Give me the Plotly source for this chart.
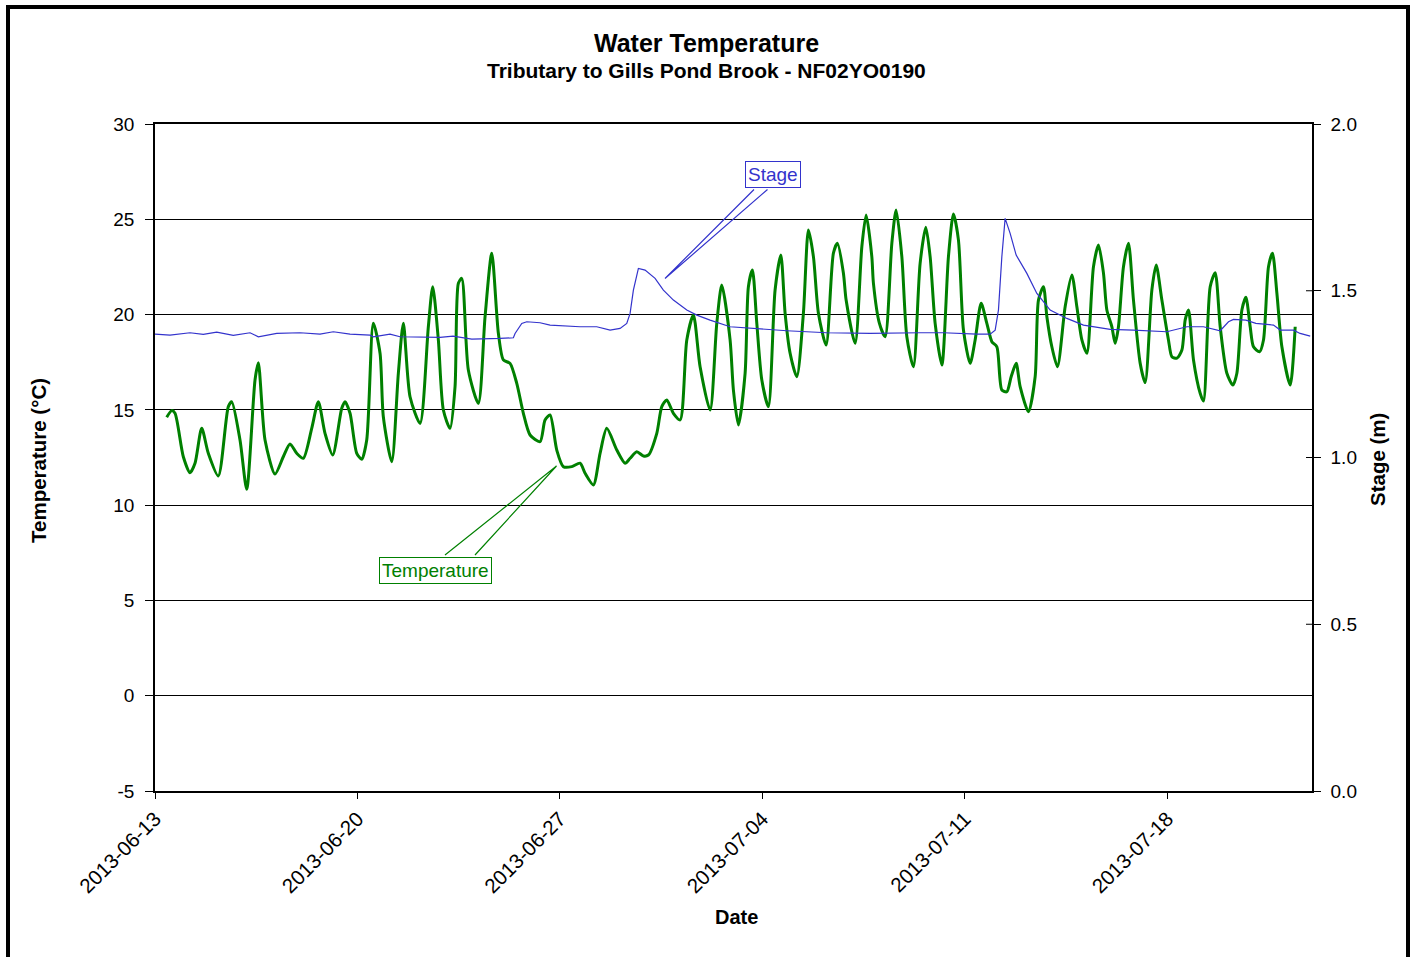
import pandas as pd
import plotly.graph_objects as go

START = "2013-06-13"

# Temperature series: (days after 2013-06-13 00:00, °C)
temp_days = [0.405, 0.577, 0.692, 0.979, 1.210, 1.383, 1.615, 1.843, 2.189, 2.535, 2.652, 2.939, 3.171, 3.458, 3.572,
             3.804, 4.149, 4.436, 4.668, 4.900, 5.128, 5.418, 5.647, 5.878, 6.145, 6.456, 6.570, 6.743, 6.975, 7.147,
             7.320, 7.549, 7.780, 7.894, 8.185, 8.413, 8.586, 8.817, 9.163, 9.450, 9.602, 9.796, 9.969, 10.201, 10.373,
             10.488, 10.605, 10.833, 11.179, 11.411, 11.643, 11.871, 12.044, 12.275, 12.507, 12.735, 12.967, 13.313,
             13.485, 13.658, 13.890, 14.118, 14.409, 14.696, 14.869, 15.156, 15.387, 15.619, 15.965, 16.252, 16.425,
             16.656, 16.885, 17.058, 17.348, 17.521, 17.694, 17.922, 18.154, 18.385, 18.613, 18.845, 19.191, 19.422,
             19.595, 19.882, 19.997, 20.170, 20.401, 20.515, 20.654, 20.806, 20.979, 21.207, 21.438, 21.636, 21.784,
             21.957, 22.189, 22.417, 22.590, 22.763, 22.936, 23.202, 23.454, 23.593, 23.800, 23.894, 24.205, 24.437,
             24.585, 24.782, 24.838, 25.045, 25.242, 25.474, 25.622, 25.820, 25.992, 26.220, 26.452, 26.649, 26.798,
             26.971, 27.203, 27.431, 27.604, 27.777, 27.950, 28.181, 28.354, 28.562, 28.759, 28.932, 29.105, 29.277,
             29.450, 29.599, 29.772, 29.910, 30.197, 30.429, 30.543, 30.716, 30.834, 31.006, 31.200, 31.466, 31.698,
             31.871, 32.044, 32.217, 32.445, 32.618, 32.791, 32.908, 33.081, 33.195, 33.309, 33.482, 33.655, 33.828,
             34.060, 34.232, 34.464, 34.613, 34.810, 35.038, 35.156, 35.329, 35.502, 35.616, 35.730, 35.903, 36.134,
             36.248, 36.480, 36.653, 36.826, 37.057, 37.265, 37.403, 37.576, 37.714, 37.863, 37.977, 38.185, 38.323,
             38.496, 38.634, 38.786, 38.959, 39.246, 39.419]
temp_vals = [14.61, 14.96, 14.82, 12.54, 11.70, 12.20, 14.03, 12.72, 11.53, 15.17, 15.43, 13.42, 10.83, 16.57, 17.47,
             13.42, 11.63, 12.54, 13.21, 12.72, 12.46, 14.03, 15.43, 13.77, 12.63, 15.08, 15.43, 14.82, 12.72, 12.41,
             13.42, 19.54, 17.97, 14.64, 12.28, 16.92, 19.54, 15.69, 14.29, 19.36, 21.46, 18.67, 14.99, 14.03, 16.22,
             21.64, 21.90, 17.09, 15.34, 19.89, 23.22, 19.02, 17.62, 17.44, 16.39, 14.82, 13.68, 13.33,
             14.47, 14.73, 12.89, 12.02, 12.02, 12.20, 11.67, 11.06, 12.72, 14.03, 12.89, 12.20, 12.46,
             12.80, 12.58, 12.63, 13.77, 15.17, 15.52, 14.82, 14.47, 18.67, 19.98, 17.26, 14.99, 19.54,
             21.55, 18.67, 16.04, 14.21, 16.92, 21.46, 22.34, 19.54, 16.57, 15.17, 21.29, 23.13, 20.07,
             17.97, 16.74, 20.07, 24.44, 23.04, 20.07, 18.40, 23.22, 23.74, 22.17, 20.76, 18.49, 23.56,
             25.22, 23.04, 21.64, 19.54, 18.84, 23.74, 25.49, 23.04, 18.84, 17.26, 22.69, 24.58, 23.04,
             19.54, 17.35, 23.04, 25.28, 23.91, 19.19, 17.44, 18.67, 20.59, 19.54, 18.58, 18.31, 16.04,
             15.95, 16.74, 17.44, 16.22, 14.90, 16.74, 20.76, 21.46, 19.89, 18.31, 17.26, 20.41, 22.08,
             20.41, 18.67, 17.97, 22.51, 23.65, 22.17, 20.24, 19.36, 18.49, 19.36, 22.51, 23.74, 20.76,
             17.44, 16.43, 21.29, 22.60, 20.76, 18.67, 17.79, 17.71, 18.14, 19.72, 20.24, 17.62, 15.87,
             15.46, 21.46, 22.20, 19.36, 16.92, 16.30, 16.92, 20.24, 20.91, 19.36, 18.31, 18.05, 18.67,
             22.51, 23.22, 21.12, 18.31, 16.30, 19.36]

# Stage series: (days after 2013-06-13 00:00, m)
stage_days = [0.0, 0.519, 1.210, 1.670, 2.133, 2.707, 3.285, 3.572, 4.208, 5.014, 5.705, 6.165, 6.743, 7.434, 7.549,
              8.126, 8.472, 9.855, 10.304, 10.951, 11.93, 12.39, 12.448, 12.68, 12.853, 13.313, 13.658, 14.696,
              15.273, 15.733, 16.079, 16.31, 16.425, 16.539, 16.712, 16.943, 17.289, 17.576, 17.922, 18.385, 18.731,
              19.191, 19.882, 20.688, 21.843, 23.226, 24.723, 26.452, 27.258, 28.413, 28.873, 29.046, 29.160, 29.277,
              29.391, 29.564, 29.772, 30.142, 30.488, 30.947, 31.525, 32.099, 33.022, 33.828, 34.983, 35.674, 36.248,
              36.826, 37.113, 37.286, 37.714, 38.060, 38.669, 38.9, 39.36, 39.59, 39.938]
stage_vals = [1.370, 1.367, 1.374, 1.369, 1.376, 1.366, 1.374, 1.362, 1.372, 1.374, 1.370, 1.377, 1.370, 1.367, 1.362,
              1.370, 1.362, 1.360, 1.364, 1.355, 1.357, 1.359, 1.372, 1.402, 1.407, 1.404, 1.397, 1.392,
              1.392, 1.382, 1.387, 1.402, 1.432, 1.502, 1.567, 1.562, 1.537, 1.502, 1.472, 1.442, 1.427,
              1.412, 1.392, 1.387, 1.380, 1.374, 1.372, 1.374, 1.374, 1.370, 1.370, 1.382, 1.442, 1.602,
              1.717, 1.672, 1.607, 1.552, 1.492, 1.442, 1.417, 1.397, 1.384, 1.382, 1.377, 1.392, 1.392,
              1.380, 1.407, 1.414, 1.412, 1.402, 1.397, 1.382, 1.382, 1.372, 1.364]

x_range = ["2013-06-13", "2013-07-23"]
temp_ticks = [-5, 0, 5, 10, 15, 20, 25, 30]
temp_tick_labels = ["-5", "0", "5", "10", "15", "20", "25", "30"]
stage_ticks = [0.0, 0.5, 1.0, 1.5, 2.0]

title = "Water Temperature"
subtitle = "Tributary to Gills Pond Brook - NF02YO0190"

FONT = "Liberation Sans, Arial, sans-serif"
GREEN = "#008000"
BLUE = "#3333CC"

start = pd.Timestamp(START)
temp_x = start + pd.to_timedelta(temp_days, unit="D")
stage_x = start + pd.to_timedelta(stage_days, unit="D")

fig = go.Figure()
fig.add_trace(go.Scatter(x=stage_x, y=stage_vals, yaxis="y2", mode="lines", name="Stage",
                         line=dict(color=BLUE, width=1.2)))
fig.add_trace(go.Scatter(x=temp_x, y=temp_vals, mode="lines", name="Temperature",
                         line=dict(color=GREEN, width=3, shape="spline", smoothing=0.7)))

W, H = 1413, 957
# plot area in page pixels
L, R, T, B = 155, 1312, 124, 791


def px(x):
    return (x - L) / (R - L)


def py(y):
    return (B - y) / (B - T)


fig.update_layout(
    width=W, height=H,
    margin=dict(l=L, r=W - R, t=T, b=H - B, autoexpand=False),
    paper_bgcolor="white", plot_bgcolor="white",
    showlegend=False,
    font=dict(family=FONT, size=19, color="black"),
    xaxis=dict(type="date", range=x_range, tick0=START, dtick=7 * 86400000, tickformat="%Y-%m-%d",
               tickangle=-45, showgrid=False, showline=True, linecolor="black", linewidth=1.5, mirror=True,
               ticks="outside", ticklen=6, tickcolor="black", zeroline=False,
               tickfont=dict(family=FONT, size=20.5)),
    yaxis=dict(range=[-5, 30], tickvals=temp_ticks, ticktext=temp_tick_labels, showgrid=True,
               gridcolor="black", gridwidth=1,
               zeroline=False, showline=True, linecolor="black", linewidth=1.5, ticks="outside",
               ticklen=8, tickcolor="black", ticklabelstandoff=7, tickfont=dict(family=FONT, size=19)),
    yaxis2=dict(range=[0, 2], tickvals=stage_ticks, tickformat=".1f", overlaying="y", side="right",
                showgrid=False, zeroline=False, showline=True, linecolor="black", linewidth=1.5,
                ticks="outside", ticklen=7, tickcolor="black", ticklabelstandoff=6,
                tickfont=dict(family=FONT, size=19)),
)

ann = [
    dict(text="<b>" + title + "</b>", x=px(706), y=py(43), font=dict(size=25)),
    dict(text="<b>" + subtitle + "</b>", x=px(706), y=py(70), font=dict(size=21)),
    dict(text="<b>Temperature (°C)</b>", x=px(38), y=py(461), textangle=-90, font=dict(size=20.5)),
    dict(text="<b>Stage (m)</b>", x=px(1377), y=py(460), textangle=-90, font=dict(size=20.5)),
    dict(text="<b>Date</b>", x=px(736), y=py(917), font=dict(size=20)),
    dict(text="Stage", x=px(773), y=py(174.5), font=dict(size=19, color=BLUE),
         bordercolor=BLUE, borderwidth=1, borderpad=2, bgcolor="white"),
    dict(text="Temperature", x=px(435.5), y=py(570), font=dict(size=19, color=GREEN),
         bordercolor=GREEN, borderwidth=1, borderpad=2, bgcolor="white"),
]
for a in ann:
    a.update(xref="paper", yref="paper", showarrow=False, xanchor="center", yanchor="middle")
    fig.add_annotation(**a)


def wedge(p1, tip, p2, color):
    path = "M {} {} L {} {} L {} {}".format(px(p1[0]), py(p1[1]), px(tip[0]), py(tip[1]),
                                            px(p2[0]), py(p2[1]))
    return dict(type="path", xref="paper", yref="paper", path=path,
                line=dict(color=color, width=1.2), layer="above")


fig.add_shape(**wedge((754, 189.5), (665, 278.5), (767.5, 189.5), BLUE))
fig.add_shape(**wedge((445, 555), (556.5, 466), (475, 555), GREEN))

# inside half of the crossing ticks on the right (stage) axis
for v in stage_ticks[1:-1]:
    fig.add_shape(type="line", xref="paper", yref="y2", x0=1.0, x1=px(R - 6), y0=v, y1=v,
                  line=dict(color="black", width=1), layer="above")

# outer chart frame
fig.add_shape(type="rect", xref="paper", yref="paper", x0=px(8), x1=px(1408), y0=py(975), y1=py(7),
              line=dict(color="black", width=4), fillcolor="rgba(0,0,0,0)", layer="above")

fig.write_html(
    "out.html",
    config={"displayModeBar": False},
    post_script="document.body.style.margin='0px';"
                "document.body.style.overflow='hidden';"
                "document.documentElement.style.overflow='hidden';",
)
